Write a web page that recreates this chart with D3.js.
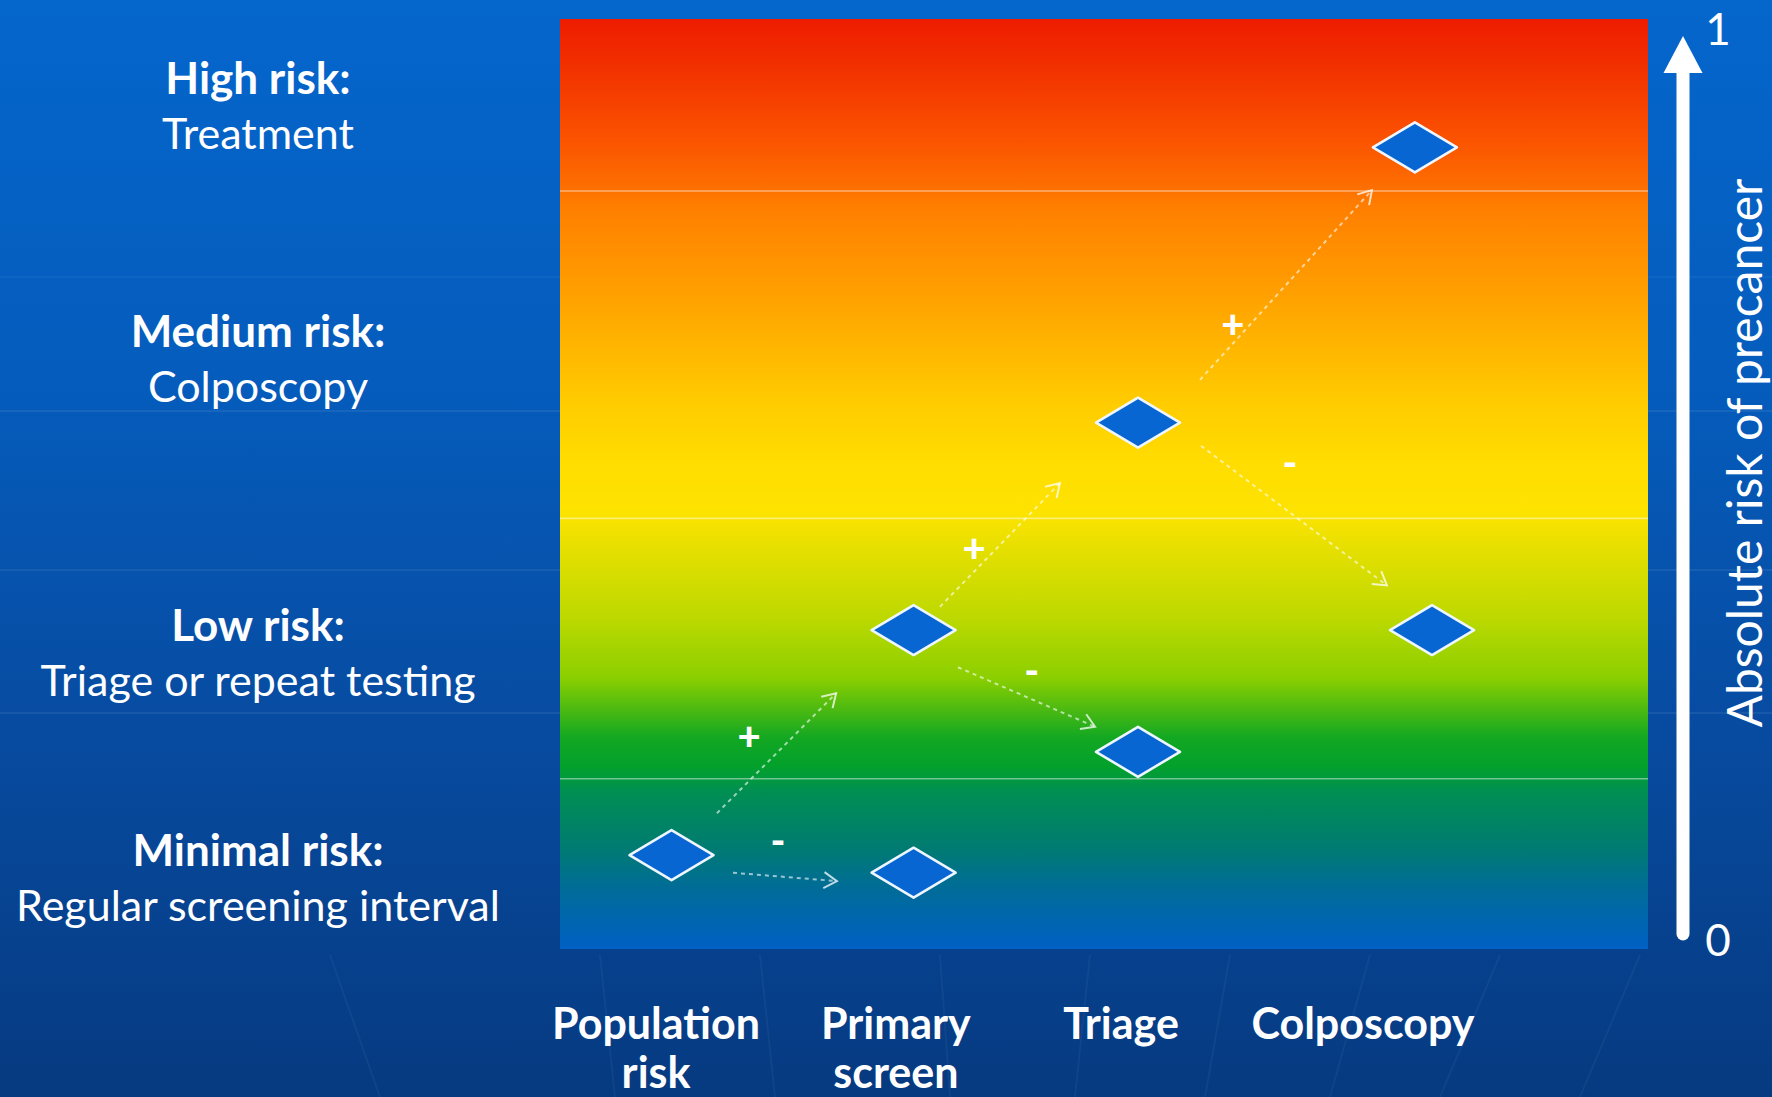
<!DOCTYPE html>
<html>
<head>
<meta charset="utf-8">
<script src="https://cdn.jsdelivr.net/npm/d3@7"></script>
<style>
  html, body { margin: 0; padding: 0; background: #0552a8; overflow: hidden; }
  svg { display: block; }
  text { font-family: Lato, "Open Sans", sans-serif; fill: #ffffff; }
</style>
</head>
<body>
<svg id="chart" width="1772" height="1097"></svg>
<script>
// Screening stages along the pathway and where their labels sit (stage units)
const stages = [["Population", "risk"], ["Primary", "screen"], ["Triage"], ["Colposcopy"]];
const stageLabelPos = [0.353, 1.235, 2.063, 2.952];

// Risk estimate after each step (stage position, absolute risk)
const pointStage = [0.41, 1.30, 1.30, 2.125, 2.125, 3.143, 3.206];
const pointRisk  = [0.101, 0.343, 0.082, 0.566, 0.212, 0.862, 0.343];

// Risk zones: boundaries and their management action
const zoneCuts = [0.183, 0.463, 0.815];
const zoneTitles  = ["Minimal risk:", "Low risk:", "Medium risk:", "High risk:"];
const zoneActions = ["Regular screening interval", "Triage or repeat testing", "Colposcopy", "Treatment"];
const zoneLabelRisk = [0.0605, 0.302, 0.618, 0.890];

// Test results: a positive (+) result raises risk, a negative (-) one lowers it
const arrowSign = ["+", "-", "+", "-", "+", "-"];
const arrowFrom = [[0.577, 0.146], [0.636, 0.082], [1.397, 0.368], [1.463, 0.303], [2.353, 0.612], [2.357, 0.541]];
const arrowTo   = [[1.015, 0.275], [1.018, 0.073], [1.838, 0.501], [1.967, 0.239], [2.985, 0.816], [3.040, 0.391]];
const signPos   = [[0.695, 0.229], [0.801, 0.116], [1.522, 0.431], [1.734, 0.299], [2.474, 0.672], [2.684, 0.523]];

// Risk axis
const axisTicks = [0, 1];
const axisTitle = "Absolute risk of precancer";

// Colour ramp of the risk field, from red (high) to blue (low)
const rampRisk   = [1.0, 0.945, 0.88, 0.82, 0.80, 0.716, 0.652, 0.586, 0.522, 0.469, 0.424, 0.358, 0.292, 0.26, 0.228, 0.196, 0.184, 0.17, 0.111, 0.065, 0.0];
const rampColour = ["#ee1c00", "#f23200", "#fa4e00", "#fd6e00", "#ff7e00", "#ff9c00", "#ffb400", "#ffcc00", "#ffdd00", "#fde300", "#e2df00", "#bed900", "#8ccf00", "#50bb10", "#14a822", "#02a02c", "#029a3c", "#008f52", "#007c70", "#006c98", "#0060c4"];

const W = 1772, H = 1097;
const plot = { left: 560, right: 1648, top: 19, bottom: 949 };

const x = d3.scaleLinear().domain([0, 4]).range([plot.left, plot.right]);
const y = d3.scaleLinear().domain([0, 1]).range([plot.bottom, plot.top]);

const svg = d3.select("#chart");
const defs = svg.append("defs");

// Slide background
const bg = defs.append("linearGradient").attr("id", "bg").attr("x1", 0).attr("y1", 0).attr("x2", 0).attr("y2", 1);
[[0, "#0566cc"], [0.35, "#055cbc"], [0.65, "#074ca2"], [1, "#063a80"]].forEach(([o, c]) =>
  bg.append("stop").attr("offset", o).attr("stop-color", c));
svg.append("rect").attr("width", W).attr("height", H).attr("fill", "url(#bg)");

// faint theme streaks
const deco = svg.append("g").attr("stroke", "#ffffff").attr("fill", "none");
[277, 411, 570, 713].forEach((yy, i) =>
  deco.append("line").attr("x1", 0).attr("x2", W).attr("y1", yy).attr("y2", yy)
    .attr("stroke-opacity", i === 0 ? 0.04 : 0.07).attr("stroke-width", 2));
[[330, 380], [600, 615], [760, 775], [940, 950], [1090, 1075], [1230, 1205], [1370, 1330], [1500, 1440], [1640, 1580]].forEach(([a, b]) =>
  deco.append("line").attr("x1", a).attr("y1", 955).attr("x2", b).attr("y2", H)
    .attr("stroke-opacity", 0.045).attr("stroke-width", 2));

// Risk field
const ramp = defs.append("linearGradient").attr("id", "ramp")
  .attr("gradientUnits", "userSpaceOnUse")
  .attr("x1", 0).attr("x2", 0).attr("y1", y(1)).attr("y2", y(0));
rampRisk.forEach((r, i) => ramp.append("stop").attr("offset", 1 - r).attr("stop-color", rampColour[i]));

svg.append("rect")
  .attr("x", plot.left).attr("y", y(1))
  .attr("width", plot.right - plot.left).attr("height", y(0) - y(1))
  .attr("fill", "url(#ramp)");

// Zone boundaries
svg.append("g").selectAll("line").data(zoneCuts).join("line")
  .attr("x1", plot.left).attr("x2", plot.right)
  .attr("y1", d => y(d)).attr("y2", d => y(d))
  .attr("stroke", "#ffffff").attr("stroke-opacity", 0.45).attr("stroke-width", 1.6);

// Zone labels
const zl = svg.append("g").attr("text-anchor", "middle");
zoneTitles.forEach((t, i) => {
  const cy = y(zoneLabelRisk[i]);
  zl.append("text").attr("x", 258).attr("y", cy - 27)
    .attr("font-size", 44).attr("font-weight", 700).text(t);
  zl.append("text").attr("x", 258).attr("y", cy + 28)
    .attr("font-size", 43).text(zoneActions[i]);
});

// Transition arrows
defs.append("marker").attr("id", "head")
  .attr("viewBox", "-16 -10 20 20").attr("refX", 0).attr("refY", 0)
  .attr("markerWidth", 20).attr("markerHeight", 20)
  .attr("markerUnits", "userSpaceOnUse").attr("orient", "auto")
  .append("path").attr("d", "M-13,-8 L0,0 L-13,8")
  .attr("fill", "none").attr("stroke", "#ffffff").attr("stroke-opacity", 0.75).attr("stroke-width", 2);

svg.append("g").selectAll("line").data(arrowFrom).join("line")
  .attr("x1", d => x(d[0])).attr("y1", d => y(d[1]))
  .attr("x2", (d, i) => x(arrowTo[i][0])).attr("y2", (d, i) => y(arrowTo[i][1]))
  .attr("stroke", "#ffffff").attr("stroke-opacity", 0.6)
  .attr("stroke-width", 2).attr("stroke-dasharray", "4 4")
  .attr("marker-end", "url(#head)");

svg.append("g").attr("text-anchor", "middle").selectAll("text").data(signPos).join("text")
  .attr("x", d => x(d[0])).attr("y", d => y(d[1]))
  .attr("dy", "0.35em")
  .attr("font-size", 40).attr("font-weight", 900)
  .text((d, i) => arrowSign[i]);

// Risk estimates
const dw = 42, dh = 25;
svg.append("g").selectAll("path").data(pointStage).join("path")
  .attr("transform", (d, i) => `translate(${x(d)},${y(pointRisk[i])})`)
  .attr("d", `M${-dw},0 L0,${-dh} L${dw},0 L0,${dh} Z`)
  .attr("fill", "#0866d2").attr("stroke", "#eef6ff").attr("stroke-width", 2.6)
  .attr("stroke-linejoin", "round");

// Stage labels
const sl = svg.append("g").attr("text-anchor", "middle");
stages.forEach((lines, i) => {
  lines.forEach((ln, j) => {
    sl.append("text").attr("x", x(stageLabelPos[i])).attr("y", 1039 + j * 49)
      .attr("font-size", 43).attr("font-weight", 700).text(ln);
  });
});

// Risk axis arrow
const ax = 1683;
const ay0 = y(0) - 15, ay1 = y(1) + 17;
svg.append("line").attr("x1", ax).attr("x2", ax).attr("y1", ay0).attr("y2", ay1 + 30)
  .attr("stroke", "#ffffff").attr("stroke-width", 13).attr("stroke-linecap", "round");
svg.append("path")
  .attr("d", `M${ax - 19.5},${ay1 + 37} L${ax},${ay1} L${ax + 19.5},${ay1 + 37} Z`)
  .attr("fill", "#ffffff");

svg.append("g").attr("text-anchor", "middle").selectAll("text").data(axisTicks).join("text")
  .attr("x", 1718).attr("y", d => y(d) + (d === 1 ? 26 : 7))
  .attr("font-size", 44).text(d => d);

svg.append("text")
  .attr("transform", `translate(1762,${(y(0) + y(1)) / 2 - 31}) rotate(-90)`)
  .attr("text-anchor", "middle").attr("font-size", 48)
  .text(axisTitle);
</script>
</body>
</html>
